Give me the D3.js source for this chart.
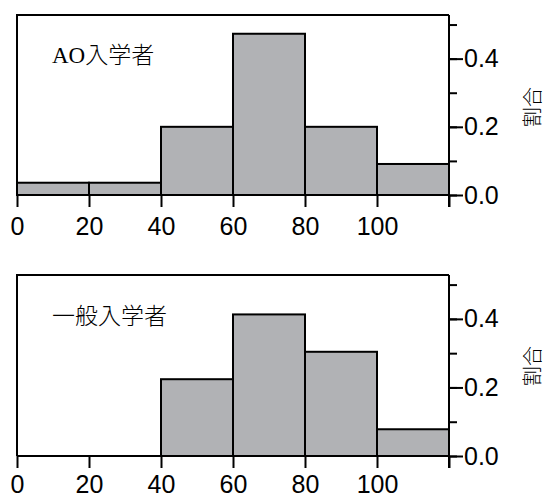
<!DOCTYPE html>
<html>
<head>
<meta charset="utf-8">
<script src="https://cdn.jsdelivr.net/npm/d3@7"></script>
<style>
  html, body { margin: 0; padding: 0; background: #fff; }
  svg { display: block; }
</style>
</head>
<body>
<script>
// Score bins (left edges plus final right edge)
const binEdges = [0, 20, 40, 60, 80, 100, 120];
// Share of students per score bin
const aoShares = [0.036, 0.036, 0.200, 0.473, 0.200, 0.091];
const generalShares = [0, 0, 0.224, 0.413, 0.304, 0.078];
const panelTitles = ["AO入学者", "一般入学者"];
const yAxisTitle = "割合";
// Axis ticks
const xTicks = [0, 20, 40, 60, 80, 100, 120];
const xTickLabels = ["0", "20", "40", "60", "80", "100", ""];
const yMinorTicks = [0, 0.1, 0.2, 0.3, 0.4, 0.5];
const yMajorTicks = [0, 0.2, 0.4];
const yMax = 0.528;

const W = 546, H = 498;
const svg = d3.select("body").append("svg").attr("width", W).attr("height", H);

const left = 17, right = 449;
const x = d3.scaleLinear().domain([0, 120]).range([left, right]);

const panels = [
  { shares: aoShares, title: panelTitles[0], top: 15, base: 195, titleY: 63, labelY: 107, pad: 10 },
  { shares: generalShares, title: panelTitles[1], top: 275, base: 456, titleY: 324, labelY: 366, pad: 7 }
];

const tickFont = "'Liberation Sans', Arial, Helvetica, sans-serif";

panels.forEach(p => {
  const y = d3.scaleLinear().domain([0, yMax]).range([p.base, p.top]);
  const g = svg.append("g");

  const bins = p.shares.map((v, i) => ({ x0: binEdges[i], x1: binEdges[i + 1], v }))
    .filter(d => d.v > 0);

  // histogram bars
  g.selectAll("rect.bar").data(bins).join("rect")
    .attr("class", "bar")
    .attr("x", d => x(d.x0))
    .attr("y", d => y(d.v))
    .attr("width", d => x(d.x1) - x(d.x0))
    .attr("height", d => y(0) - y(d.v))
    .attr("fill", "#b1b2b5")
    .attr("stroke", "#000")
    .attr("stroke-width", 2);

  // frame: left, top edges
  g.append("path")
    .attr("d", `M${x(0)},${y(0)}V${p.top}H${x(120)}`)
    .attr("fill", "none").attr("stroke", "#000").attr("stroke-width", 2);

  // bottom axis
  const xAxis = d3.axisBottom(x).tickValues(xTicks)
    .tickFormat((d, i) => xTickLabels[i]).tickSize(12).tickPadding(p.pad);
  const gx = g.append("g").attr("transform", `translate(0,${y(0)})`).call(xAxis);
  gx.select(".domain").attr("stroke-width", 2).attr("d", `M${x(0)},0H${x(120)}`);
  gx.selectAll(".tick line").attr("stroke-width", 2);
  gx.selectAll(".tick text").attr("font-family", tickFont).attr("font-size", 25).attr("fill", "#000");

  // right axis: minor ticks
  const yMinor = d3.axisRight(y).tickValues(yMinorTicks).tickFormat("").tickSize(8);
  const gyMinor = g.append("g").attr("transform", `translate(${x(120)},0)`).call(yMinor);
  gyMinor.select(".domain").attr("stroke-width", 2).attr("d", `M0,${p.top}V${y(0) + 12}`);
  gyMinor.selectAll(".tick line").attr("stroke-width", 2);

  // right axis: labelled ticks
  const yMajor = d3.axisRight(y).tickValues(yMajorTicks).tickFormat(d3.format(".1f")).tickSize(14).tickPadding(1);
  const gyMajor = g.append("g").attr("transform", `translate(${x(120)},0)`).call(yMajor);
  gyMajor.select(".domain").remove();
  gyMajor.selectAll(".tick line").attr("stroke-width", 2);
  gyMajor.selectAll(".tick text").attr("font-family", tickFont).attr("font-size", 25).attr("fill", "#000");

  // panel title
  g.append("text")
    .attr("x", 52).attr("y", p.titleY)
    .attr("font-family", "'Liberation Serif', 'Times New Roman', 'Noto Sans CJK JP', serif")
    .attr("font-size", 23)
    .attr("font-weight", 300)
    .attr("fill", "#000")
    .text(p.title);

  // y axis title
  g.append("text")
    .attr("transform", `translate(531,${p.labelY}) rotate(-90)`)
    .attr("text-anchor", "middle")
    .attr("dominant-baseline", "central")
    .attr("font-family", "'Noto Sans CJK JP', sans-serif")
    .attr("font-size", 20)
    .attr("font-weight", 300)
    .attr("fill", "#000")
    .text(yAxisTitle);
});
</script>
</body>
</html>
